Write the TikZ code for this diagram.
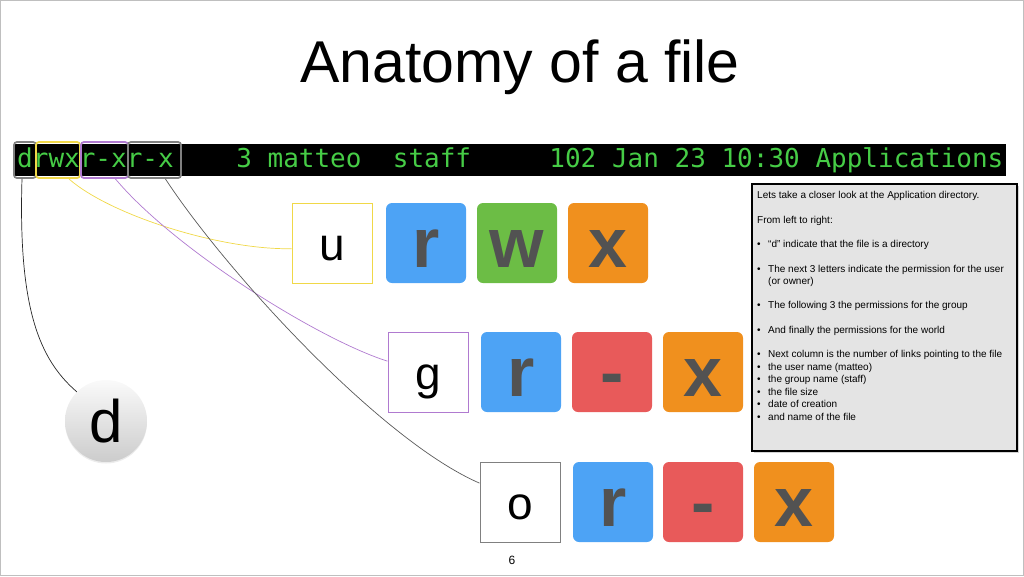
\documentclass[tikz,border=0pt]{standalone}
\usepackage{fontspec}
\setmainfont{Liberation Sans}
\setmonofont{DejaVu Sans Mono}
\usetikzlibrary{shadows}
\definecolor{termgreen}{HTML}{46CC46}
\definecolor{readblue}{HTML}{4DA3F5}
\definecolor{writegreen}{HTML}{6CBD45}
\definecolor{execorange}{HTML}{F0901E}
\definecolor{noperm}{HTML}{E85A5A}
\definecolor{letter}{HTML}{525252}
\definecolor{notegray}{HTML}{E4E4E4}
\definecolor{ucol}{HTML}{F0D848}
\definecolor{gcol}{HTML}{B07AD0}
\definecolor{ocol}{HTML}{808080}

\tikzset{
  bit/.style={rounded corners=6pt, minimum width=80pt, minimum height=80pt, inner sep=0pt,
    text height=49pt, text depth=0pt, text=letter, font=\fontsize{70}{70}\selectfont\bfseries},
  who/.style={draw=#1, line width=1pt, fill=white, minimum width=80pt, minimum height=80pt,
    inner sep=0pt, text height=34pt, text depth=0pt, font=\fontsize{46}{46}\selectfont},
  hilite/.style={draw=#1, line width=1.8pt, rounded corners=3pt, minimum height=36pt, inner sep=0pt},
  link/.style={draw=#1, line width=0.7pt},
}

\begin{document}
\begin{tikzpicture}[x=1pt,y=-1pt]
  \useasboundingbox (0,0) rectangle (1024,576);
  \draw[gray!50, thin] (0.5,0.5) rectangle (1023.5,575.5);

  % title
  \node[anchor=base, font=\fontsize{59}{59}\selectfont] (title) at (520,82) {Anatomy of a file};

  % the listing
  \node[fill=black, text=termgreen, anchor=west, inner xsep=3pt, minimum height=30pt,
    font=\ttfamily\fontsize{26}{26}\selectfont] (listing) at (14,160)
    {drwxr-xr-x\ \ \ \ 3 matteo\ \ staff\ \ \ \ \ 102 Jan 23 10:30 Applications};
  \node[hilite=ocol, minimum width=22pt] (dbit) at (25,160) {};
  \node[hilite=ucol, minimum width=44pt] (ubits) at (58,160) {};
  \node[hilite=gcol, minimum width=47pt] (gbits) at (104.5,160) {};
  \node[hilite=ocol, minimum width=53pt] (obits) at (154.5,160) {};

  % type
  \node[circle, minimum size=82pt, inner sep=0pt, top color=gray!4, bottom color=gray!40,
    drop shadow={opacity=0.15, shadow xshift=0pt, shadow yshift=-1.5pt},
    text height=42pt, text depth=0pt, font=\fontsize{60}{60}\selectfont] (dcirc) at (106,421) {d};

  % user
  \node[who=ucol] (ubox) at (332,243) {u};
  \node[bit, fill=readblue] (ur) at (426,243) {r};
  \node[bit, fill=writegreen] (uw) at (517,243) {w};
  \node[bit, fill=execorange] (ux) at (608,243) {x};

  % group
  \node[who=gcol] (gbox) at (428,372) {g};
  \node[bit, fill=readblue] (gr) at (521,372) {r};
  \node[bit, fill=noperm] (gw) at (612,372) {-};
  \node[bit, fill=execorange] (gx) at (703,372) {x};

  % others
  \node[who=ocol] (obox) at (520,502) {o};
  \node[bit, fill=readblue] (or) at (613,502) {r};
  \node[bit, fill=noperm] (ow) at (703,502) {-};
  \node[bit, fill=execorange] (ox) at (794,502) {x};

  % connectors
  \draw[link=black!85] ([xshift=-3pt]dbit.south) .. controls (18,310) and (40,360) .. (dcirc.135);
  \draw[link=ucol] (ubits.-60) .. controls (110,215) and (220,250) .. (ubox.188);
  \draw[link=gcol] (gbits.-60) .. controls (175,250) and (320,340) .. (gbox.165);
  \draw[link=black!65] (obits.-60) .. controls (225,270) and (380,440) .. (obox.155);

  % note
  \node[draw, line width=1.8pt, fill=notegray, anchor=north west,
    minimum width=265pt, minimum height=267pt,
    drop shadow={opacity=0.35, shadow xshift=2.5pt, shadow yshift=-2.5pt}] (note) at (751,183) {};
  \node[anchor=north west, inner sep=0pt, align=left,
    font=\fontsize{10}{12.5}\selectfont] (notetext) at (757,191.5) {%
    Lets take a closer look at the Application directory.\\[12pt]
    From left to right:\\[12pt]
    \makebox[11pt][l]{•}“d” indicate that the file is a directory\\[12pt]
    \makebox[11pt][l]{•}The next 3 letters indicate the permission for the user\\
    \hspace*{11pt}(or owner)\\[11.5pt]
    \makebox[11pt][l]{•}The following 3 the permissions for the group\\[12pt]
    \makebox[11pt][l]{•}And finally the permissions for the world\\[12pt]
    \makebox[11pt][l]{•}Next column is the number of links pointing to the file\\
    \makebox[11pt][l]{•}the user name (matteo)\\
    \makebox[11pt][l]{•}the group name (staff)\\
    \makebox[11pt][l]{•}the file size\\
    \makebox[11pt][l]{•}date of creation\\
    \makebox[11pt][l]{•}and name of the file};

  % page number
  \node[font=\fontsize{12}{12}\selectfont] (pagenum) at (512,560) {6};
\end{tikzpicture}
\end{document}
